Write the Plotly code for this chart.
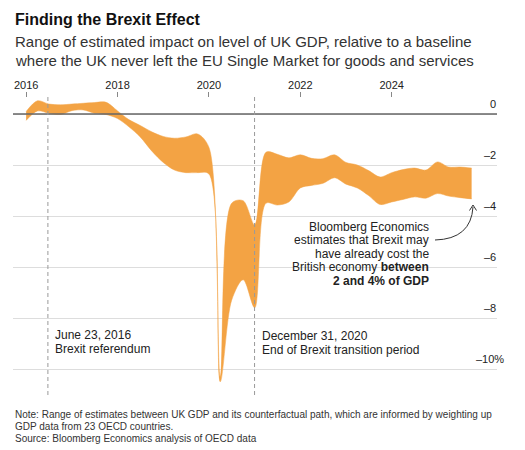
import plotly.graph_objects as go

# ---- data (quarterly) ----
quarters = [
    "2016-01-01", "2016-04-01", "2016-07-01", "2016-10-01",
    "2017-01-01", "2017-04-01", "2017-07-01", "2017-10-01",
    "2018-01-01", "2018-04-01", "2018-07-01", "2018-10-01",
    "2019-01-01", "2019-04-01", "2019-07-01", "2019-10-01",
    "2020-01-01", "2020-04-01", "2020-07-01", "2020-10-01",
    "2021-01-01", "2021-04-01", "2021-07-01", "2021-10-01",
    "2022-01-01", "2022-04-01", "2022-07-01", "2022-10-01",
    "2023-01-01", "2023-04-01", "2023-07-01", "2023-10-01",
    "2024-01-01", "2024-04-01", "2024-07-01", "2024-10-01",
    "2025-01-01", "2025-04-01", "2025-07-01", "2025-10-01",
]
upper_bound = [
    0.10, 0.52, 0.39, 0.36, 0.39, 0.42, 0.45, 0.46,
    0.12, -0.22, -0.45, -0.70, -0.88, -0.95, -0.90, -0.78,
    -1.30, -10.30, -3.50, -3.40, -4.35, -1.50, -1.58, -1.72,
    -1.60, -1.74, -1.75, -1.60, -1.90, -2.00, -2.22, -2.47,
    -2.30, -2.18, -2.12, -2.20, -1.88, -2.08, -2.08, -2.12,
]
lower_bound = [
    -0.25, 0.12, 0.03, -0.02, 0.13, 0.16, 0.03, -0.02,
    -0.18, -0.50, -0.90, -1.45, -1.90, -2.20, -2.30, -2.30,
    -2.35, -10.50, -7.30, -6.50, -7.60, -3.50, -3.57, -3.45,
    -2.90, -2.80, -2.72, -2.50, -2.75, -2.90, -3.20, -3.55,
    -3.45, -3.35, -3.25, -3.30, -3.12, -3.22, -3.28, -3.33,
]
year_ticks = ["2016-01-01", "2018-01-01", "2020-01-01", "2022-01-01", "2024-01-01"]
year_labels = ["2016", "2018", "2020", "2022", "2024"]
y_grid = [0, -2, -4, -6, -8, -10]
y_labels = ["0", "–2", "–4", "–6", "–8", "–10%"]
events = ["2016-06-23", "2020-12-31"]

ORANGE = "#F3A344"
FONT = "Liberation Sans, Arial, sans-serif"

W, H = 525, 450
ML, MR, MT, MB = 13, 28, 92, 55
PW, PH = W - ML - MR, H - MT - MB


def xp(px):
    return (px - ML) / PW


def yp(py):
    return (H - MB - py) / PH


fig = go.Figure()
fig.add_trace(go.Scatter(
    x=quarters, y=lower_bound, mode="lines",
    line=dict(color=ORANGE, width=0.5, shape="spline", smoothing=0.9),
    hoverinfo="skip", showlegend=False))
fig.add_trace(go.Scatter(
    x=quarters, y=upper_bound, mode="lines", fill="tonexty", fillcolor=ORANGE,
    line=dict(color=ORANGE, width=0.5, shape="spline", smoothing=0.9),
    hoverinfo="skip", showlegend=False))

shapes = []
# zero line on top
shapes.append(dict(type="line", xref="paper", yref="y", x0=0, x1=1, y0=0, y1=0,
                   line=dict(color="#666666", width=1.5), layer="above"))
for ev in events:
    shapes.append(dict(type="line", xref="x", yref="paper", x0=ev, x1=ev,
                       y0=0, y1=yp(95), line=dict(color="#9a9a9a", width=1, dash="4px,3px"),
                       layer="above"))
# curved arrow
shapes.append(dict(type="path", xref="paper", yref="paper",
                   path=f"M {xp(435)},{yp(240)} Q {xp(471)},{yp(239)} {xp(473)},{yp(207)}",
                   line=dict(color="#333333", width=1)))
shapes.append(dict(type="path", xref="paper", yref="paper",
                   path=f"M {xp(469.5)},{yp(210.5)} L {xp(473)},{yp(205)} L {xp(476.5)},{yp(210.5)}",
                   line=dict(color="#333333", width=1)))

ann = []


def txt(text, px, py, size=12, anchor="left", color="#222222", bold=False):
    ann.append(dict(text=(f"<b>{text}</b>" if bold else text), xref="paper", yref="paper",
                    x=xp(px), y=yp(py), xanchor=anchor, yanchor="middle", showarrow=False,
                    font=dict(family=FONT, size=size, color=color)))


txt("Finding the Brexit Effect", 13, 19, size=16, color="#111111", bold=True)
txt("Range of estimated impact on level of UK GDP, relative to a baseline", 13, 41, size=15, color="#333333")
txt("where the UK never left the EU Single Market for goods and services", 13, 60.5, size=15, color="#333333")

for v, lab in zip(y_grid, y_labels):
    ann.append(dict(text=lab, xref="paper", yref="y", x=1, y=v, xanchor="right", yanchor="middle",
                    xshift=(9 if "%" in lab else 1), yshift=10, showarrow=False,
                    font=dict(family=FONT, size=11, color="#222222")))

txt("June 23, 2016", 53, 335)
txt("Brexit referendum", 53, 349)
txt("December 31, 2020", 260, 336)
txt("End of Brexit transition period", 260, 350)

txt("Bloomberg Economics", 431, 226.5, anchor="right")
txt("estimates that Brexit may", 431, 240, anchor="right")
txt("have already cost the", 431, 253.5, anchor="right")
txt("British economy <b>between</b>", 431, 267, anchor="right")
txt("<b>2 and 4% of GDP</b>", 431, 280.5, anchor="right")

txt("Note: Range of estimates between UK GDP and its counterfactual path, which are informed by weighting up",
    13, 414, size=10, color="#333333")
txt("GDP data from 23 OECD countries.", 13, 426, size=10, color="#333333")
txt("Source: Bloomberg Economics analysis of OECD data", 13, 438, size=10, color="#333333")

fig.update_layout(
    width=W, height=H,
    margin=dict(l=ML, r=MR, t=MT, b=MB, pad=0),
    paper_bgcolor="white", plot_bgcolor="white",
    font=dict(family=FONT, color="#222222"),
    shapes=shapes, annotations=ann,
    xaxis=dict(type="date", range=["2015-09-18", "2026-04-22"], side="top",
               tickvals=year_ticks, ticktext=year_labels, ticks="inside", ticklen=5,
               tickcolor="#888888", tickwidth=1, showgrid=False, zeroline=False, showline=False,
               tickfont=dict(family=FONT, size=11, color="#222222")),
    yaxis=dict(range=[-(H - MB - 114) / 25.5, (114 - MT) / 25.5], tickvals=y_grid,
               showticklabels=False, showgrid=True, gridcolor="#dddddd", gridwidth=1,
               zeroline=False, showline=False),
    showlegend=False,
)

fig.write_html("out.html")
